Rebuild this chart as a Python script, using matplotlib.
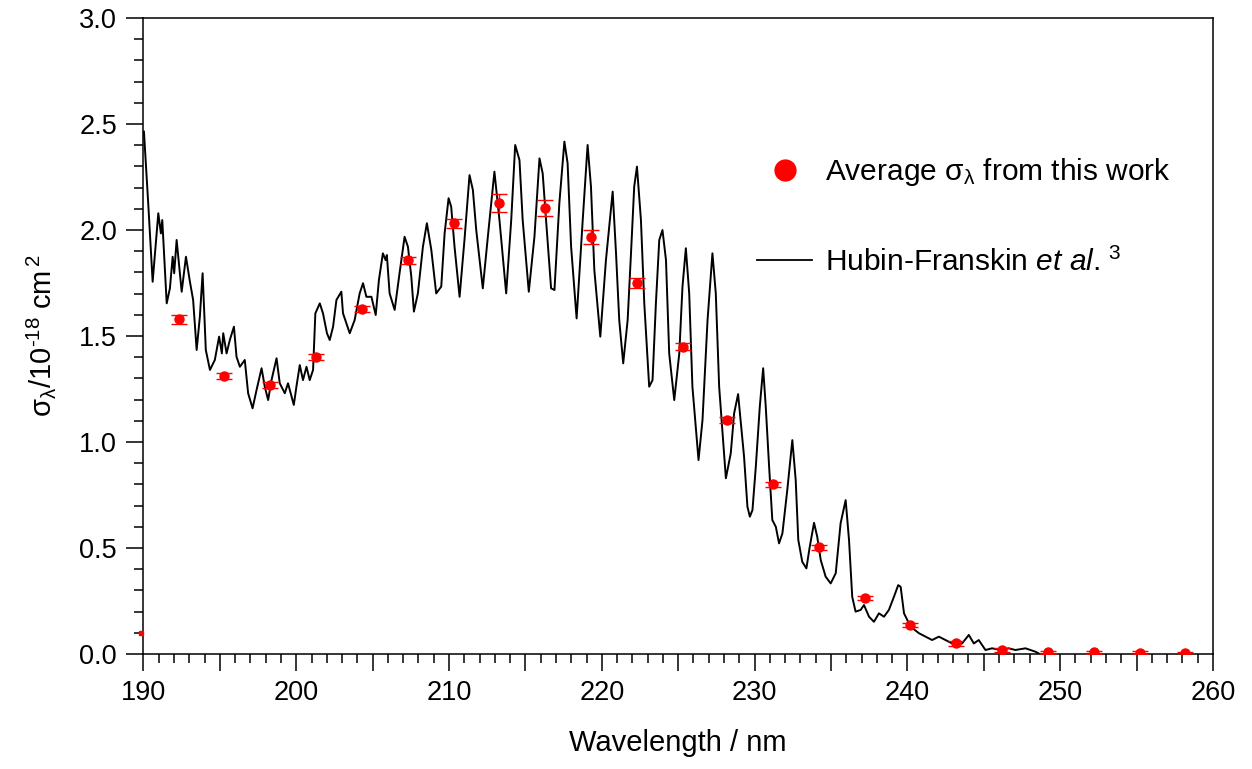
import numpy as np
import matplotlib
matplotlib.use("Agg")
from matplotlib import pyplot as plt
from matplotlib.lines import Line2D

plt.rcParams['font.family'] = 'sans-serif'
plt.rcParams['font.sans-serif'] = ['Liberation Sans', 'DejaVu Sans']
plt.rcParams['mathtext.fontset'] = 'custom'
plt.rcParams['mathtext.rm'] = 'Liberation Sans'
plt.rcParams['mathtext.it'] = 'Liberation Sans:italic'
plt.rcParams['mathtext.bf'] = 'Liberation Sans:bold'

# Hubin-Franskin et al. spectrum
hf_wl = [190.03, 190.31, 190.60, 190.97, 191.14, 191.23, 191.52, 191.73, 191.91, 192.01,
         192.17, 192.50, 192.78, 193.04, 193.25, 193.48, 193.69, 193.87, 194.08, 194.35,
         194.67, 194.95, 195.13, 195.22, 195.44, 195.65, 195.92, 196.09, 196.31, 196.63,
         196.85, 197.14, 197.40, 197.73, 197.94, 198.16, 198.38, 198.71, 198.92, 199.25,
         199.46, 199.84, 200.01, 200.23, 200.44, 200.67, 200.88, 201.10, 201.25, 201.54,
         201.75, 202.01, 202.19, 202.41, 202.63, 202.95, 203.06, 203.50, 203.82, 204.15,
         204.37, 204.59, 204.92, 205.20, 205.41, 205.67, 205.85, 205.93, 206.11, 206.44,
         206.76, 207.09, 207.31, 207.53, 207.70, 207.96, 208.29, 208.55, 208.84, 209.16,
         209.49, 209.71, 209.97, 210.14, 210.36, 210.69, 211.01, 211.34, 211.56, 211.78,
         212.21, 212.54, 212.97, 213.30, 213.74, 214.07, 214.33, 214.61, 214.82, 215.22,
         215.59, 215.92, 216.13, 216.35, 216.68, 216.90, 217.22, 217.55, 217.76, 217.99,
         218.35, 218.75, 219.07, 219.29, 219.51, 219.90, 220.27, 220.71, 220.93, 221.14,
         221.40, 221.69, 221.91, 222.12, 222.30, 222.56, 222.78, 223.10, 223.32, 223.54,
         223.76, 223.97, 224.20, 224.41, 224.74, 225.07, 225.28, 225.50, 225.72, 225.93,
         226.33, 226.59, 226.92, 227.24, 227.46, 227.68, 228.12, 228.44, 228.66, 228.92,
         229.31, 229.53, 229.69, 229.86, 230.08, 230.34, 230.56, 230.73, 230.95, 231.16,
         231.39, 231.60, 231.82, 232.14, 232.47, 232.69, 232.86, 233.12, 233.39, 233.61,
         233.89, 234.10, 234.33, 234.65, 234.98, 235.31, 235.63, 235.96, 236.18, 236.39,
         236.61, 236.94, 237.16, 237.49, 237.81, 238.14, 238.47, 238.79, 239.12, 239.40,
         239.56, 239.78, 240.21, 240.76, 241.19, 241.62, 242.06, 242.50, 242.93, 243.58,
         244.02, 244.35, 244.67, 245.11, 245.54, 246.09, 246.63, 247.07, 247.73, 248.38,
         248.59]
hf_sigma = [2.464, 2.126, 1.756, 2.079, 1.984, 2.047, 1.654, 1.725, 1.874, 1.796,
            1.953, 1.709, 1.874, 1.756, 1.670, 1.434, 1.591, 1.796, 1.434, 1.340,
            1.387, 1.497, 1.418, 1.513, 1.418, 1.481, 1.544, 1.402, 1.355, 1.387,
            1.230, 1.159, 1.245, 1.348, 1.261, 1.198, 1.292, 1.395, 1.277, 1.230,
            1.277, 1.175, 1.261, 1.363, 1.292, 1.355, 1.292, 1.340, 1.607, 1.654,
            1.607, 1.513, 1.481, 1.544, 1.670, 1.709, 1.607, 1.513, 1.575, 1.701,
            1.749, 1.685, 1.685, 1.599, 1.764, 1.890, 1.858, 1.882, 1.701, 1.623,
            1.796, 1.968, 1.921, 1.780, 1.615, 1.701, 1.921, 2.032, 1.906, 1.701,
            1.733, 1.984, 2.150, 2.110, 1.921, 1.685, 1.953, 2.259, 2.189, 2.000,
            1.725, 1.968, 2.275, 2.047, 1.701, 2.047, 2.401, 2.330, 2.047, 1.709,
            1.968, 2.338, 2.267, 2.047, 1.725, 1.717, 2.126, 2.417, 2.315, 1.921,
            1.583, 2.047, 2.401, 2.204, 1.811, 1.497, 1.858, 2.181, 1.890, 1.575,
            1.371, 1.575, 1.890, 2.204, 2.299, 2.047, 1.654, 1.261, 1.292, 1.654,
            1.953, 2.000, 1.858, 1.418, 1.198, 1.418, 1.733, 1.914, 1.701, 1.261,
            0.915, 1.104, 1.575, 1.890, 1.701, 1.261, 0.829, 0.947, 1.135, 1.226,
            0.931, 0.695, 0.648, 0.679, 0.884, 1.167, 1.348, 1.167, 0.884, 0.632,
            0.600, 0.522, 0.569, 0.774, 1.009, 0.821, 0.538, 0.435, 0.404, 0.506,
            0.619, 0.553, 0.443, 0.365, 0.333, 0.381, 0.617, 0.726, 0.538, 0.270,
            0.200, 0.208, 0.231, 0.176, 0.152, 0.192, 0.176, 0.208, 0.270, 0.325,
            0.317, 0.192, 0.129, 0.098, 0.082, 0.066, 0.082, 0.066, 0.050, 0.050,
            0.090, 0.050, 0.066, 0.019, 0.027, 0.019, 0.027, 0.019, 0.027, 0.011,
            0.003]

# average cross sections from this work
avg_wl = [192.3, 195.3, 198.3, 201.3, 204.3, 207.3, 210.3, 213.3, 216.3, 219.3, 222.3, 225.3,
          228.2, 231.2, 234.2, 237.2, 240.2, 243.2, 246.2, 249.2, 252.2, 255.2, 258.2]
avg_sigma = [1.579, 1.311, 1.269, 1.400, 1.627, 1.858, 2.032, 2.126, 2.105, 1.968, 1.751, 1.449,
             1.104, 0.800, 0.503, 0.266, 0.137, 0.050, 0.019, 0.008, 0.008, 0.006, 0.003]
avg_err = [0.021, 0.015, 0.015, 0.013, 0.013, 0.017, 0.021, 0.043, 0.037, 0.033, 0.024, 0.016,
           0.012, 0.010, 0.010, 0.010, 0.010, 0.010, 0.008, 0.008, 0.008, 0.008, 0.008]

stray_wl = [189.85]
stray_sigma = [0.10]

fig = plt.figure(figsize=(12.52, 7.69), dpi=100)
ax = fig.add_axes([0.1146, 0.1495, 0.8542, 0.8271])

ax.plot(hf_wl, hf_sigma, color='black', lw=1.4, zorder=2)
ax.errorbar(avg_wl, avg_sigma, yerr=avg_err, fmt='o', color='#ff0000', ms=6.5,
            ecolor='#ff0000', elinewidth=1.0, capsize=6, capthick=1.0, zorder=3)
ax.plot(stray_wl, stray_sigma, 's', color='#ff0000', ms=3, clip_on=False, zorder=3)

ax.set_xlim(190, 260)
ax.set_ylim(0, 3.0)

xt = np.arange(190, 261, 5)
ax.set_xticks(xt)
ax.set_xticklabels([str(v) if v % 10 == 0 else '' for v in xt])
ax.set_xticks(np.arange(190, 261, 1), minor=True)
ax.set_yticks(np.arange(0, 3.01, 0.5))
ax.set_yticklabels(['%.1f' % v for v in np.arange(0, 3.01, 0.5)])
ax.set_yticks(np.arange(0, 3.01, 0.1), minor=True)

ax.tick_params(which='both', direction='out', width=1.1, top=False, right=False)
ax.tick_params(which='major', length=12, labelsize=19.5, pad=7)
ax.tick_params(which='minor', length=6.5)
for s in ax.spines.values():
    s.set_linewidth(1.1)

ax.set_xlabel('Wavelength / nm', fontsize=21, labelpad=16)
ax.set_ylabel(r'σ$_\mathrm{λ}$/10$^{\text{-18}}$ cm$^{\,2}$', fontsize=21)
ax.yaxis.set_label_coords(-0.08, 0.5)

handles = [Line2D([], [], ls='none', marker='o', color='#ff0000', ms=15),
           Line2D([], [], color='black', lw=1.3)]
labels = [r'Average σ$_\mathrm{λ}$ from this work', r'Hubin-Franskin $\mathit{et\ al.}$$^{\,3}$']
ax.legend(handles, labels, loc='upper left', bbox_to_anchor=(757 / 1252, 1 - 156 / 769),
          bbox_transform=fig.transFigure, frameon=False, fontsize=21.5, borderpad=0,
          borderaxespad=0, handlelength=1.85, handletextpad=0.42, labelspacing=2.0)

plt.savefig('out.png', dpi=100)
